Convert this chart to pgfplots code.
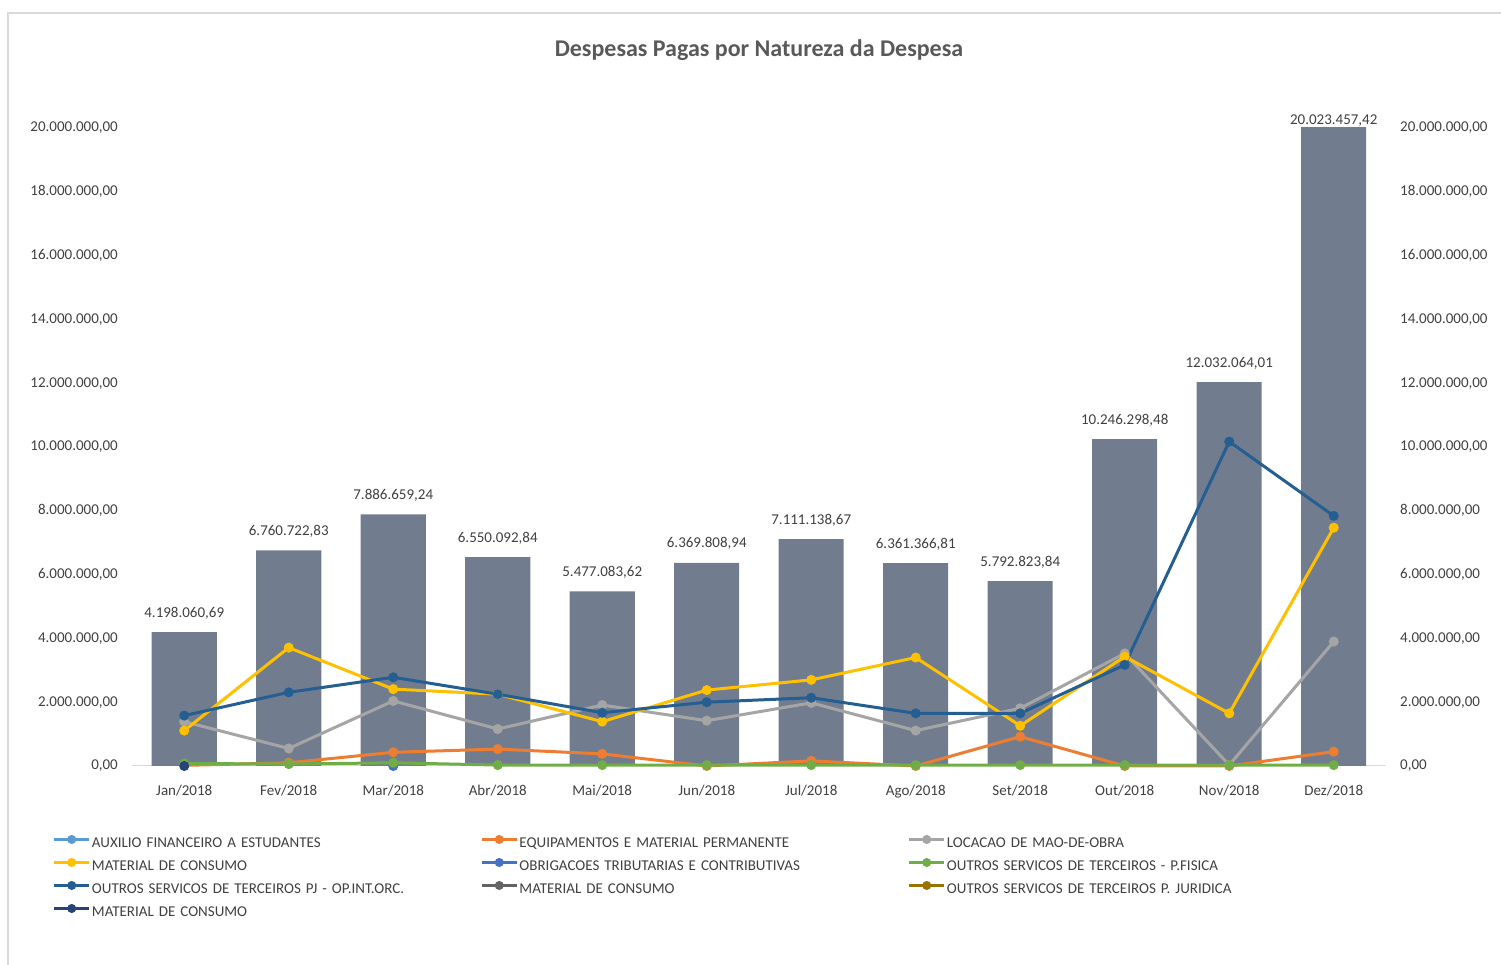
\documentclass[border=0pt]{standalone}
\usepackage{fontspec}
\setmainfont{Carlito}
\usepackage{pgfplots}
\pgfplotsset{compat=1.18}
\usepackage{pgfplotstable}
\definecolor{barc}{HTML}{717D8F}
\definecolor{cAux}{HTML}{5B9BD5}
\definecolor{cEqu}{HTML}{ED7D31}
\definecolor{cLoc}{HTML}{A5A5A5}
\definecolor{cMat}{HTML}{FFC000}
\definecolor{cObr}{HTML}{4472C4}
\definecolor{cFis}{HTML}{70AD47}
\definecolor{cPJ}{HTML}{255E91}
\definecolor{cMat2}{HTML}{636363}
\definecolor{cJur}{HTML}{997300}
\definecolor{cMat3}{HTML}{264478}
\definecolor{textc}{HTML}{404040}
\definecolor{titlec}{HTML}{595959}
\definecolor{gridc}{HTML}{D9D9D9}

% bar totals in millions
\pgfplotstableread{
x y off label
0 4.19806069 15 4.198.060,69
1 6.76072283 15 6.760.722,83
2 7.88665924 15 7.886.659,24
3 6.55009284 15 6.550.092,84
4 5.47708362 15 5.477.083,62
5 6.36980894 15 6.369.808,94
6 7.11113867 15 7.111.138,67
7 6.36136681 15 6.361.366,81
8 5.79282384 15 5.792.823,84
9 10.24629848 15 10.246.298,48
10 12.03206401 15 12.032.064,01
11 20.02345742 3 20.023.457,42
}\bars

% line series in millions
\pgfplotstableread{
x equip loc mat pj fis
0 0.02 1.39 1.11 1.58 0.08
1 0.10 0.55 3.71 2.31 0.06
2 0.43 2.04 2.41 2.78 0.10
3 0.53 1.16 2.25 2.25 0.03
4 0.38 1.91 1.39 1.67 0.03
5 0.00 1.42 2.38 2.00 0.03
6 0.16 1.98 2.70 2.14 0.03
7 0.00 1.11 3.40 1.65 0.03
8 0.92 1.81 1.26 1.65 0.03
9 0.00 3.53 3.43 3.17 0.03
10 0.00 0.03 1.65 10.17 0.03
11 0.45 3.90 7.47 7.84 0.03
}\lines

\pgfplotsset{
  ser/.style={color=#1, line width=3bp, mark=*, mark size=4.5bp,
    mark options={solid, fill=#1, line width=1bp}},
}

\begin{document}
\begin{tikzpicture}
\useasboundingbox (0,0) rectangle (1501bp,965bp);
\draw[gridc, line width=1.5bp] (8bp,0bp) -- (8bp,952bp) -- (1501bp,952bp);
\begin{axis}[
  at={(132bp,199bp)}, anchor=south west,
  scale only axis, width=1254bp, height=638bp,
  xmin=-0.5, xmax=11.5, ymin=0, ymax=20,
  clip=false,
  axis x line*=bottom, axis y line*=left,
  x axis line style={draw=gridc, line width=1bp, -},
  y axis line style={draw=none},
  major tick length=0pt, tick style={draw=none},
  xtick={0,...,11},
  xticklabels={Jan/2018,Fev/2018,Mar/2018,Abr/2018,Mai/2018,Jun/2018,Jul/2018,Ago/2018,Set/2018,Out/2018,Nov/2018,Dez/2018},
  ytick={0,2,...,20},
  yticklabels={{0,00},{2.000.000,00},{4.000.000,00},{6.000.000,00},{8.000.000,00},{10.000.000,00},{12.000.000,00},{14.000.000,00},{16.000.000,00},{18.000.000,00},{20.000.000,00}},
  tick label style={font=\fontsize{15bp}{18bp}\selectfont, text=textc},
  yticklabel style={anchor=east, inner sep=0pt, xshift=-14bp},
  xticklabel style={anchor=base, inner sep=0pt, yshift=-30bp},
  title={Despesas Pagas por Natureza da Despesa},
  title style={at={(0.5,1.103)}, anchor=base, font=\bfseries\fontsize{24bp}{28bp}\selectfont, text=titlec},
  legend columns=3,
  legend cell align=left,
  legend style={draw=none, fill=none, at={(-0.0634,-0.1042)}, anchor=north west,
    inner sep=0pt, outer sep=0pt, column sep=0pt,
    font=\fontsize{15bp}{18bp}\selectfont, text=textc,
    nodes={inner xsep=1bp, inner ysep=4.5bp, text height=11bp, text depth=3bp, text width=387bp, align=left}},
  legend image code/.code={\draw[#1, line width=3.5bp, mark size=4bp, mark repeat=2, mark phase=2] plot coordinates {(0bp,4.5bp) (17.5bp,4.5bp) (35bp,4.5bp)};},
]
\addplot[ybar, bar width=65bp, fill=barc, draw=none, forget plot,
  point meta=explicit symbolic,
  nodes near coords,
  visualization depends on={\thisrow{off} \as \labeloff},
  every node near coord/.append style={anchor=base, inner sep=0pt, yshift=\labeloff bp, font=\fontsize{15bp}{18bp}\selectfont, text=textc}]
  table[x=x, y=y, meta=label] {\bars};

\addlegendimage{ser=cAux}
\addlegendentry{AUXILIO FINANCEIRO A ESTUDANTES}
\addplot[ser=cEqu] table[x=x, y=equip] {\lines};
\addlegendentry{EQUIPAMENTOS E MATERIAL PERMANENTE}
\addplot[ser=cLoc] table[x=x, y=loc] {\lines};
\addlegendentry{LOCACAO DE MAO-DE-OBRA}
\addplot[ser=cMat] table[x=x, y=mat] {\lines};
\addlegendentry{MATERIAL DE CONSUMO}
\addplot[ser=cObr] coordinates {(2,0)};
\addlegendentry{OBRIGACOES TRIBUTARIAS E CONTRIBUTIVAS}
\addplot[ser=cFis] table[x=x, y=fis] {\lines};
\addlegendentry{OUTROS SERVICOS DE TERCEIROS - P.FISICA}
\addplot[ser=cPJ] table[x=x, y=pj] {\lines};
\addlegendentry{OUTROS SERVICOS DE TERCEIROS PJ - OP.INT.ORC.}
\addlegendimage{ser=cMat2}
\addlegendentry{MATERIAL DE CONSUMO}
\addlegendimage{ser=cJur}
\addlegendentry{OUTROS SERVICOS DE TERCEIROS P. JURIDICA}
\addplot[ser=cMat3] coordinates {(0,0)};
\addlegendentry{MATERIAL DE CONSUMO}
\end{axis}
\begin{axis}[
  at={(132bp,199bp)}, anchor=south west,
  scale only axis, width=1254bp, height=638bp,
  xmin=-0.5, xmax=11.5, ymin=0, ymax=20,
  axis x line=none, axis y line*=right,
  y axis line style={draw=none},
  major tick length=0pt, tick style={draw=none},
  ytick={0,2,...,20},
  yticklabels={{0,00},{2.000.000,00},{4.000.000,00},{6.000.000,00},{8.000.000,00},{10.000.000,00},{12.000.000,00},{14.000.000,00},{16.000.000,00},{18.000.000,00},{20.000.000,00}},
  tick label style={font=\fontsize{15bp}{18bp}\selectfont, text=textc},
  yticklabel style={anchor=west, inner sep=0pt, xshift=14bp},
]
\end{axis}
\end{tikzpicture}
\end{document}
